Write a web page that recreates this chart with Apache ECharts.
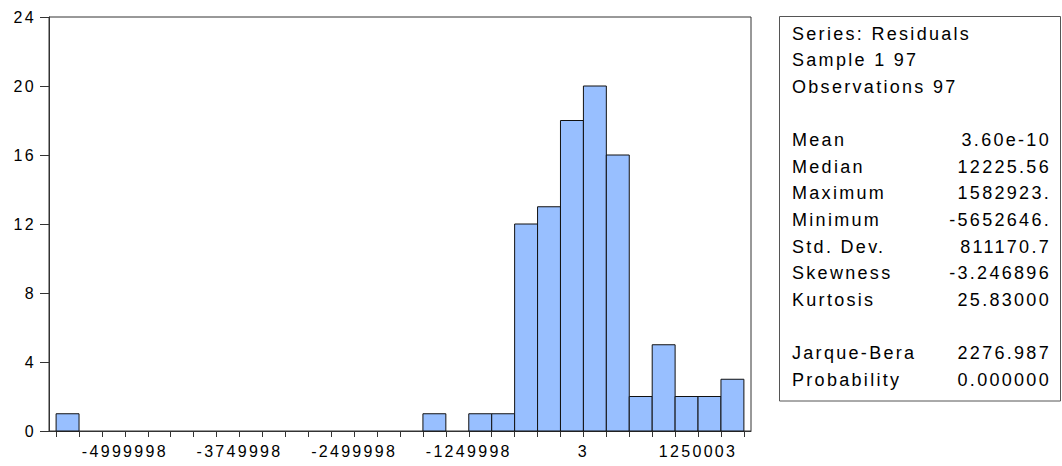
<!DOCTYPE html>
<html>
<head>
<meta charset="utf-8">
<script src="https://cdn.jsdelivr.net/npm/echarts@6/dist/echarts.min.js"></script>
<style>
  html, body { margin: 0; padding: 0; background: #fff; }
  #chart { width: 1062px; height: 466px; }
  /* EViews-style spaced lettering */
  #chart text { letter-spacing: 2.3px; }
</style>
</head>
<body>
<div id="chart"></div>
<script>
// histogram of residuals, bins of 250000 starting at the first edge
var binStart = -5749998;
var binWidth = 250000;
var counts = [1, 0, 0, 0, 0, 0, 0, 0, 0, 0,
              0, 0, 0, 0, 0, 0, 1, 0, 1, 1,
              12, 13, 18, 20, 16, 2, 5, 2, 2, 3];
var xLabels = [-4999998, -3749998, -2499998, -1249998, 3, 1250003];
var yMax = 24;
var yStep = 4;

var statHeader = ["Series: Residuals", "Sample 1 97", "Observations 97"];
var statNames = ["Mean", "Median", "Maximum", "Minimum", "Std. Dev.", "Skewness", "Kurtosis"];
var statValues = ["3.60e-10", "12225.56", "1582923.", "-5652646.", "811170.7", "-3.246896", "25.83000"];
var testNames = ["Jarque-Bera", "Probability"];
var testValues = ["2276.987", "0.000000"];

var edges = [];
for (var i = 0; i <= counts.length; i++) edges.push(binStart + i * binWidth);
var bins = counts.map(function (c, i) { return [edges[i], edges[i + 1], c]; });

var font = "'Liberation Sans', Arial, sans-serif";

// stats panel text lines
var graphics = [{
  type: "rect",
  shape: { x: 779.5, y: 16.5, width: 281, height: 384.5 },
  style: { fill: "#fff", stroke: "#555", lineWidth: 1 }
}];
var lineY = function (n) { return 33.7 + n * 26.6; };
function addText(str, x, y, align) {
  graphics.push({
    type: "text", x: x, y: y,
    style: { text: str, fill: "#000", font: "18px " + font, textAlign: align, textVerticalAlign: "middle" }
  });
}
statHeader.forEach(function (s, n) { addText(s, 792, lineY(n), "left"); });
statNames.forEach(function (s, n) {
  addText(s, 792, lineY(4 + n), "left");
  addText(statValues[n], 1051, lineY(4 + n), "right");
});
testNames.forEach(function (s, n) {
  addText(s, 792, lineY(12 + n), "left");
  addText(testValues[n], 1051, lineY(12 + n), "right");
});

var chart = echarts.init(document.getElementById("chart"), null, { renderer: "svg" });
var option = {
  animation: false,
  backgroundColor: "#fff",
  grid: {
    left: 49, right: 311, top: 17, bottom: 35,
    show: true, borderColor: "#333", borderWidth: 1, backgroundColor: "transparent"
  },
  xAxis: {
    type: "value",
    min: binStart - 77500,
    max: edges[edges.length - 1] + 77500,
    axisLine: { show: true, onZero: false, lineStyle: { color: "#333", width: 1 } },
    axisTick: { show: true, length: 6, customValues: edges, lineStyle: { color: "#333" } },
    axisLabel: {
      customValues: xLabels, color: "#000", fontSize: 16, fontFamily: font, margin: 12,
      formatter: function (v) { return String(v); }
    },
    splitLine: { show: false }
  },
  yAxis: {
    type: "value",
    min: 0, max: yMax, interval: yStep,
    axisLine: { show: true, onZero: false, lineStyle: { color: "#333", width: 1 } },
    axisTick: { show: true, length: 9, lineStyle: { color: "#333" } },
    axisLabel: { color: "#000", fontSize: 16, fontFamily: font, margin: 13 },
    splitLine: { show: false }
  },
  series: [{
    type: "custom",
    data: bins,
    encode: { x: [0, 1], y: 2 },
    renderItem: function (params, api) {
      var c = api.value(2);
      if (!c) return null;
      var p0 = api.coord([api.value(0), c]);
      var p1 = api.coord([api.value(1), 0]);
      return {
        type: "rect",
        shape: { x: p0[0], y: p0[1], width: p1[0] - p0[0], height: p1[1] - p0[1] },
        style: { fill: "#98bfff", stroke: "#111", lineWidth: 1 }
      };
    }
  }],
  graphic: graphics
};
chart.setOption(option);
</script>
</body>
</html>
